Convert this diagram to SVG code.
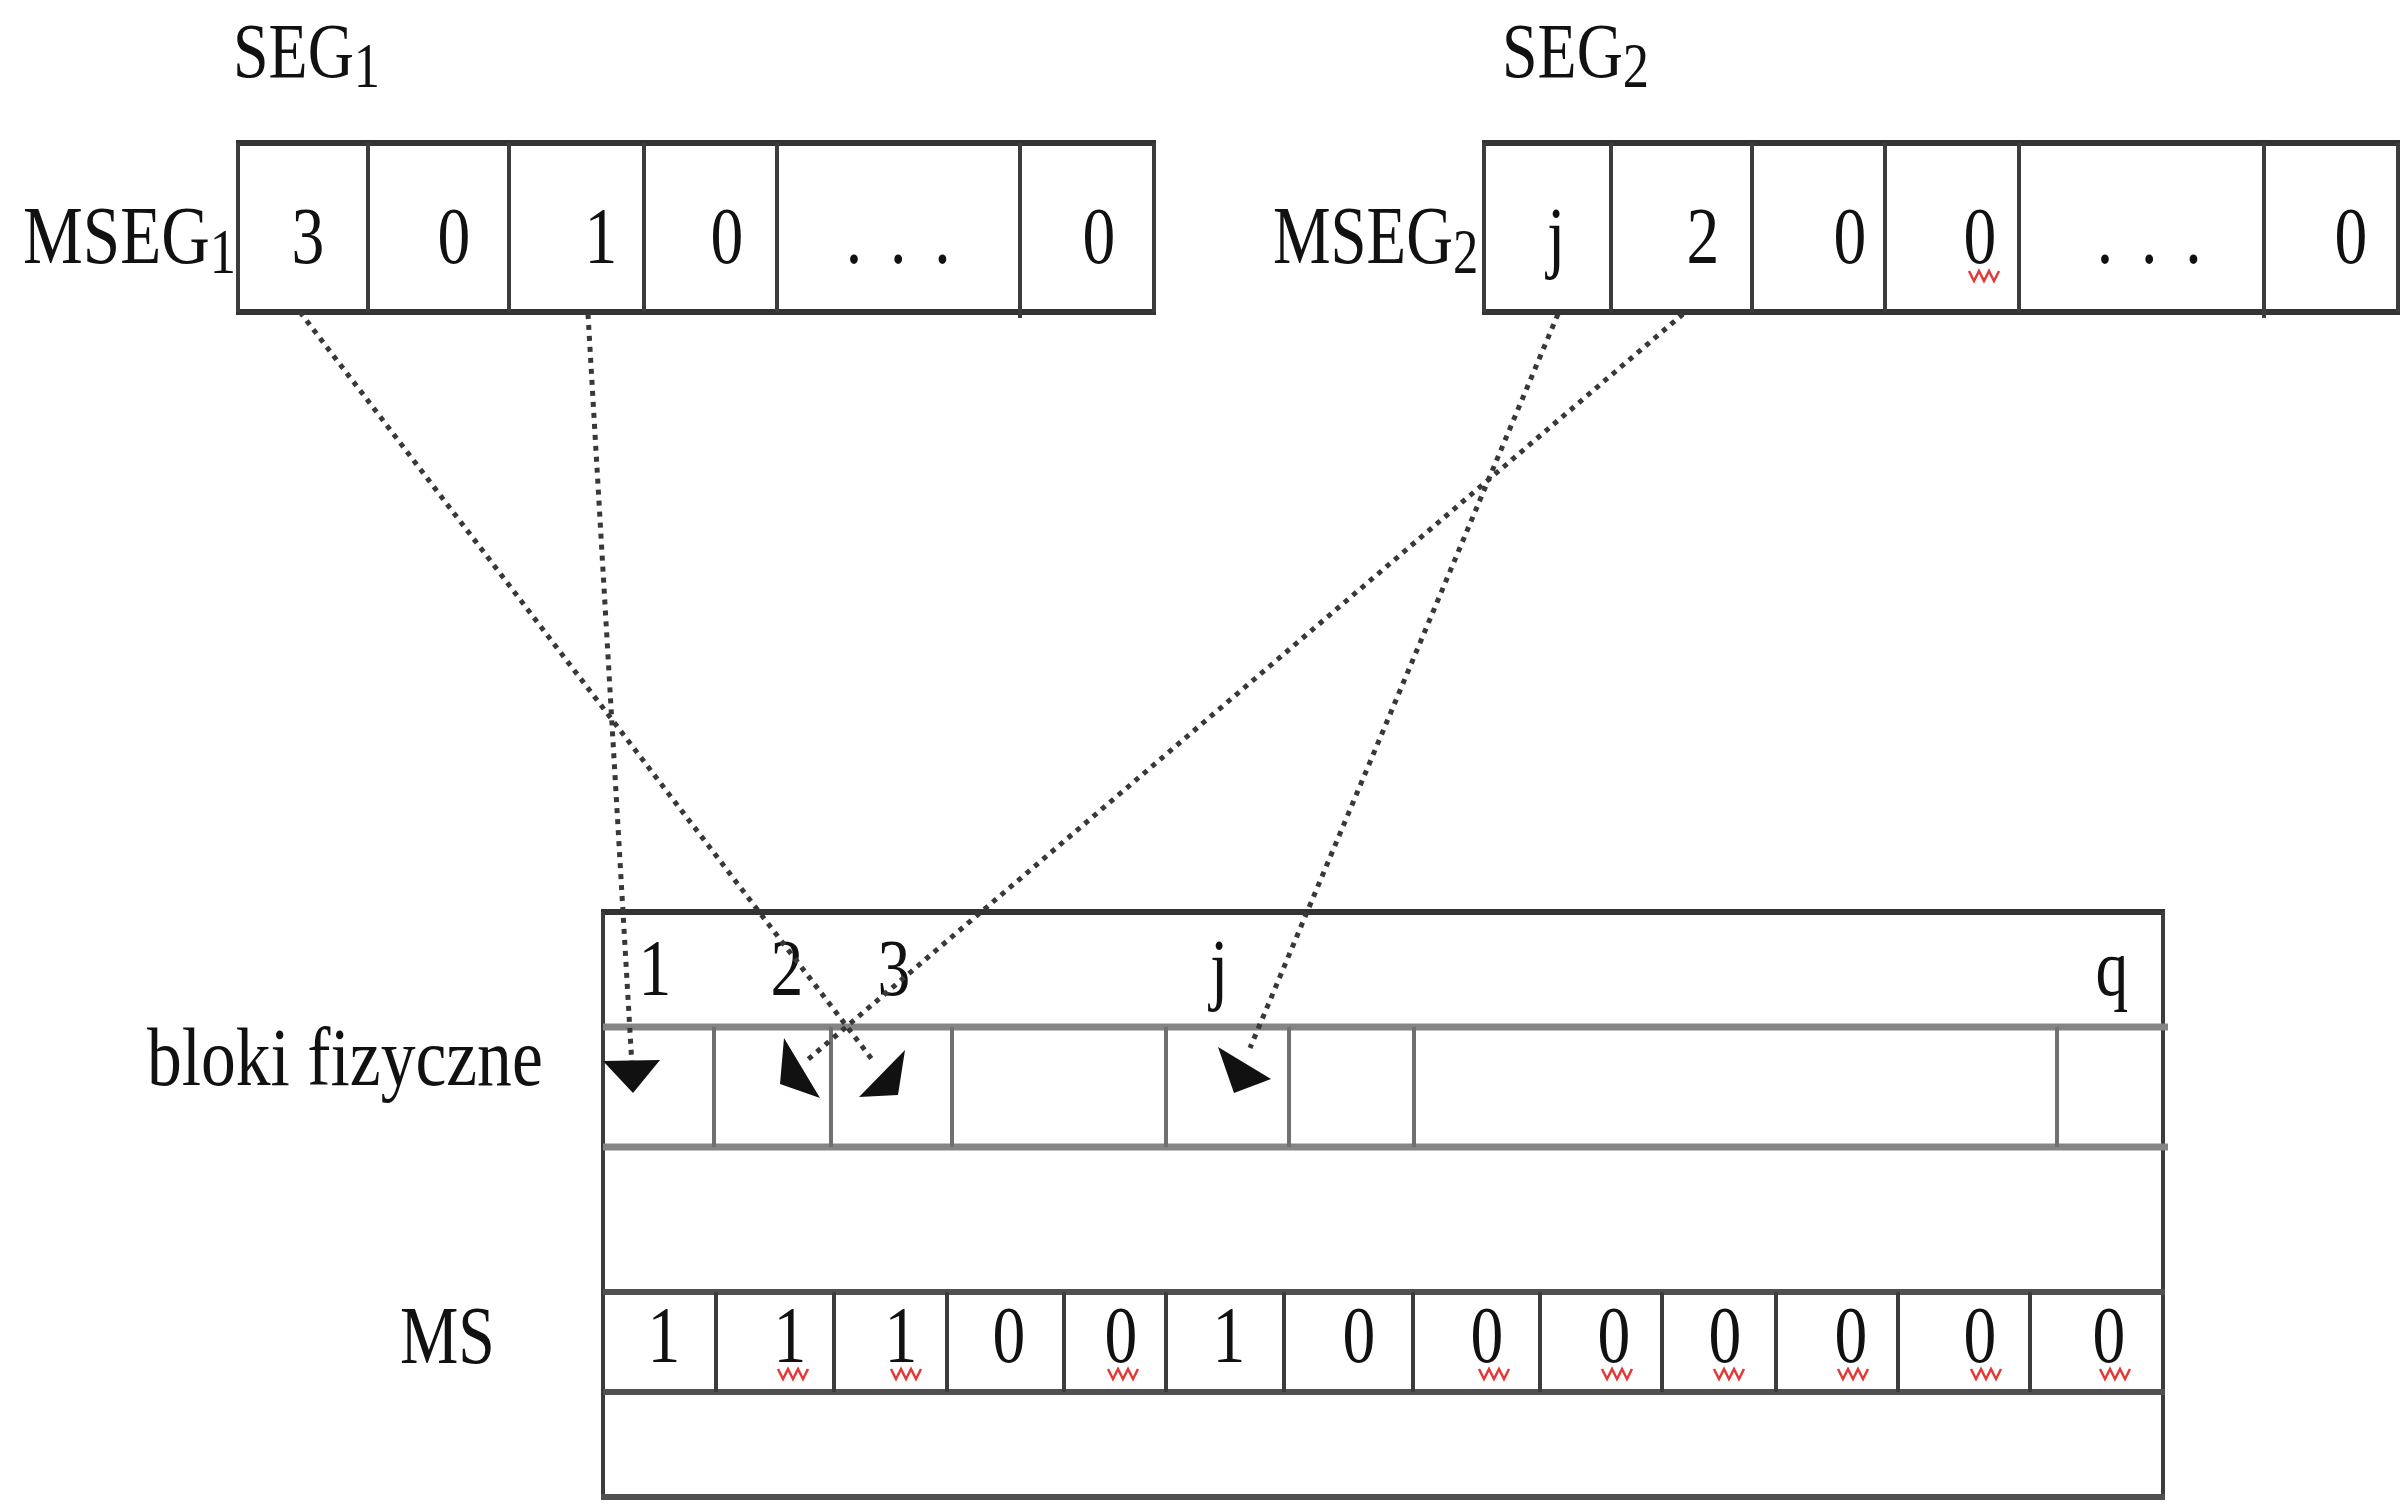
<svg xmlns="http://www.w3.org/2000/svg" width="2404" height="1512" viewBox="0 0 2404 1512">
<style>
text{font-family:"Liberation Serif","Times New Roman",serif;fill:#111}
.c{text-anchor:middle}
.hb{stroke:#333;stroke-width:6;fill:none}
.vd{stroke:#3c3c3c;stroke-width:4}
.gr{stroke:#858585;stroke-width:7}
.gv{stroke:#707070;stroke-width:4}
.ms{stroke:#505050;stroke-width:6}
.conn{stroke:#383838;stroke-width:5;stroke-dasharray:5 6;fill:none}
.ah{fill:#111}
.sq{stroke:#e53935;stroke-width:2.5;fill:none}
</style>
<defs>
<path id="sq" class="sq" d="M-15,0 l5,10 l5,-10 l5,10 l5,-10 l5,10 l5,-10"/>
</defs>
<rect width="2404" height="1512" fill="#fff"/>

<g id="seg1">
<text transform="translate(233,77) scale(0.82,1)" font-size="78">SEG<tspan font-size="64" dy="10">1</tspan></text>
<text transform="translate(23,263) scale(0.82,1)" font-size="82">MSEG<tspan font-size="64" dy="10">1</tspan></text>
<line class="hb" x1="236" y1="143" x2="1156" y2="143"/>
<line class="hb" x1="236" y1="312" x2="1156" y2="312"/>
<g class="vd">
<line x1="238" y1="143" x2="238" y2="312"/>
<line x1="368" y1="143" x2="368" y2="312"/>
<line x1="509" y1="143" x2="509" y2="312"/>
<line x1="644" y1="143" x2="644" y2="312"/>
<line x1="777" y1="143" x2="777" y2="312"/>
<line x1="1020" y1="143" x2="1020" y2="318"/>
<line x1="1154" y1="143" x2="1154" y2="312"/>
</g>
<g class="c" font-size="80">
<text transform="translate(308,263) scale(0.82,1)">3</text>
<text transform="translate(454,263) scale(0.82,1)">0</text>
<text transform="translate(601,263) scale(0.82,1)">1</text>
<text transform="translate(727,263) scale(0.82,1)">0</text>
<text transform="translate(901,263) scale(0.82,1)" letter-spacing="7">. . .</text>
<text transform="translate(1099,263) scale(0.82,1)">0</text>
</g>
</g>

<g id="seg2">
<text transform="translate(1502,77) scale(0.82,1)" font-size="78">SEG<tspan font-size="64" dy="10">2</tspan></text>
<text transform="translate(1273,263) scale(0.79,1)" font-size="82">MSEG<tspan font-size="64" dy="10">2</tspan></text>
<line class="hb" x1="1482" y1="143" x2="2400" y2="143"/>
<line class="hb" x1="1482" y1="312" x2="2400" y2="312"/>
<g class="vd">
<line x1="1484" y1="143" x2="1484" y2="312"/>
<line x1="1611" y1="143" x2="1611" y2="312"/>
<line x1="1752" y1="143" x2="1752" y2="312"/>
<line x1="1885" y1="143" x2="1885" y2="312"/>
<line x1="2019" y1="143" x2="2019" y2="312"/>
<line x1="2264" y1="143" x2="2264" y2="318"/>
<line x1="2398" y1="143" x2="2398" y2="312"/>
</g>
<g class="c" font-size="80">
<text transform="translate(1556,263) scale(0.82,1)">j</text>
<text transform="translate(1703,263) scale(0.82,1)">2</text>
<text transform="translate(1850,263) scale(0.82,1)">0</text>
<text transform="translate(1980,263) scale(0.82,1)">0</text>
<text transform="translate(2152,263) scale(0.82,1)" letter-spacing="7">. . .</text>
<text transform="translate(2351,263) scale(0.82,1)">0</text>
</g>
<use href="#sq" x="1984" y="271"/>
</g>

<g id="memory">
<text transform="translate(147,1085) scale(0.848,1)" font-size="82">bloki fizyczne</text>
<text transform="translate(400,1363) scale(0.8,1)" font-size="82">MS</text>
<line class="hb" x1="601" y1="912" x2="2165" y2="912"/>
<line class="vd" x1="603" y1="912" x2="603" y2="1497"/>
<line class="vd" x1="2163" y1="912" x2="2163" y2="1497"/>
<line class="ms" x1="601" y1="1497" x2="2165" y2="1497"/>
<line class="gr" x1="603" y1="1027" x2="2168" y2="1027"/>
<line class="gr" x1="603" y1="1147" x2="2168" y2="1147"/>
<g class="gv">
<line x1="714" y1="1027" x2="714" y2="1147"/>
<line x1="831" y1="1027" x2="831" y2="1147"/>
<line x1="952" y1="1027" x2="952" y2="1147"/>
<line x1="1166" y1="1027" x2="1166" y2="1147"/>
<line x1="1289" y1="1027" x2="1289" y2="1147"/>
<line x1="1414" y1="1027" x2="1414" y2="1147"/>
<line x1="2057" y1="1027" x2="2057" y2="1147"/>
</g>
<g class="c" font-size="80">
<text transform="translate(655,995) scale(0.82,1)">1</text>
<text transform="translate(787,995) scale(0.82,1)">2</text>
<text transform="translate(894,995) scale(0.82,1)">3</text>
<text transform="translate(1219,995) scale(0.82,1)">j</text>
<text transform="translate(2112,995) scale(0.82,1)">q</text>
</g>
<line class="ms" x1="603" y1="1292" x2="2165" y2="1292"/>
<line class="ms" x1="603" y1="1392" x2="2165" y2="1392"/>
<g class="vd">
<line x1="716" y1="1292" x2="716" y2="1392"/>
<line x1="834" y1="1292" x2="834" y2="1392"/>
<line x1="947" y1="1292" x2="947" y2="1392"/>
<line x1="1064" y1="1292" x2="1064" y2="1392"/>
<line x1="1166" y1="1292" x2="1166" y2="1392"/>
<line x1="1284" y1="1292" x2="1284" y2="1392"/>
<line x1="1413" y1="1292" x2="1413" y2="1392"/>
<line x1="1540" y1="1292" x2="1540" y2="1392"/>
<line x1="1662" y1="1292" x2="1662" y2="1392"/>
<line x1="1776" y1="1292" x2="1776" y2="1392"/>
<line x1="1898" y1="1292" x2="1898" y2="1392"/>
<line x1="2030" y1="1292" x2="2030" y2="1392"/>
</g>
<g class="c" font-size="80">
<text transform="translate(664,1362) scale(0.82,1)">1</text>
<text transform="translate(790,1362) scale(0.82,1)">1</text>
<text transform="translate(901,1362) scale(0.82,1)">1</text>
<text transform="translate(1009,1362) scale(0.82,1)">0</text>
<text transform="translate(1121,1362) scale(0.82,1)">0</text>
<text transform="translate(1229,1362) scale(0.82,1)">1</text>
<text transform="translate(1359,1362) scale(0.82,1)">0</text>
<text transform="translate(1487,1362) scale(0.82,1)">0</text>
<text transform="translate(1614,1362) scale(0.82,1)">0</text>
<text transform="translate(1725,1362) scale(0.82,1)">0</text>
<text transform="translate(1851,1362) scale(0.82,1)">0</text>
<text transform="translate(1980,1362) scale(0.82,1)">0</text>
<text transform="translate(2109,1362) scale(0.82,1)">0</text>
</g>
<use href="#sq" x="793" y="1369"/>
<use href="#sq" x="906" y="1369"/>
<use href="#sq" x="1123" y="1369"/>
<use href="#sq" x="1494" y="1369"/>
<use href="#sq" x="1617" y="1369"/>
<use href="#sq" x="1729" y="1369"/>
<use href="#sq" x="1853" y="1369"/>
<use href="#sq" x="1986" y="1369"/>
<use href="#sq" x="2115" y="1369"/>
</g>

<g id="connectors">
<path class="conn" d="M300,312 L874,1062"/>
<path class="conn" d="M588,314 L632,1066"/>
<path class="conn" d="M1683,314 L805,1062"/>
<path class="conn" d="M1558,314 L1250,1048"/>
<polygon class="ah" points="603,1061 660,1060 633,1093"/>
<polygon class="ah" points="784,1038 820,1098 780,1084"/>
<polygon class="ah" points="905,1050 898,1095 859,1097"/>
<polygon class="ah" points="1218,1047 1271,1079 1234,1093"/>
</g>
</svg>
